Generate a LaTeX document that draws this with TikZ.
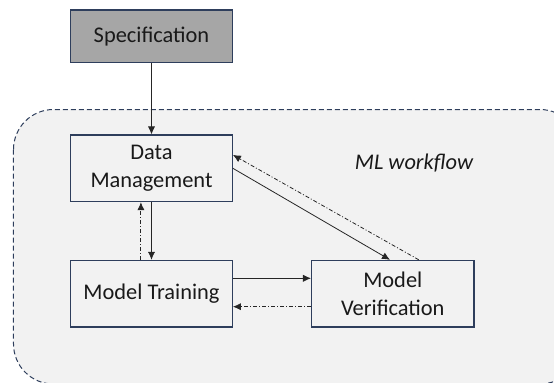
\documentclass[tikz,border=0pt]{standalone}
\usepackage{fontspec}
\setmainfont{Carlito}
\usetikzlibrary{arrows.meta}

\definecolor{boxline}{RGB}{46,62,92}
\definecolor{specgray}{RGB}{166,166,166}
\definecolor{areagray}{RGB}{242,242,242}

\begin{document}
\begin{tikzpicture}[x=0.5pt, y=-0.5pt,
    every node/.style={font=\fontsize{11.2}{14}\selectfont, text=black!90},
    box/.style={draw=boxline, line width=0.6pt, fill=areagray, align=center,
        minimum width=80.8pt, minimum height=33.3pt, inner sep=0pt},
    flow/.style={draw=black!85, line width=0.4pt, -{Latex[length=4pt,width=3.6pt]}},
    feedback/.style={flow, dash pattern=on 2pt off 1pt on 0.5pt off 1pt}]

    \useasboundingbox (0,0) rectangle (554,382);

    % workflow area, cut off at the right and bottom
    \begin{scope}
        \clip (0,0) rectangle (554,382);
        \draw[boxline, fill=areagray, line width=0.5pt, dash pattern=on 2.5pt off 1.5pt,
            rounded corners=20pt] (13.5,109.5) rectangle (580,384);
    \end{scope}
    \node[font=\fontsize{11.2}{14}\selectfont\itshape] (mlflow) at (414,163) {ML workflow};

    \node[box, fill=specgray, minimum height=26.2pt] (spec) at (151.5,36.2) {Specification};
    \node[box] (datamgmt) at (151.5,168.3) {Data\\Management};
    \node[box] (training) at (151.5,293.7) {Model Training};
    \node[box, minimum width=81.2pt] (verif) at (392.8,293.7) {Model\\Verification};

    \draw[flow] (spec) -- (datamgmt);
    \draw[flow] (datamgmt) -- (training);
    \draw[feedback] ([xshift=-5.3pt]training.north) -- ([xshift=-5.3pt]datamgmt.south);
    \draw[flow] (datamgmt.east) -- ([xshift=-1.4pt]verif.north);
    \draw[feedback] ([xshift=13pt]verif.north) -- ([yshift=6.7pt]datamgmt.east);
    \draw[flow] ([yshift=7.7pt]training.east) -- ([yshift=7.7pt]verif.west);
    \draw[feedback] ([yshift=-6.5pt]verif.west) -- ([yshift=-6.5pt]training.east);
\end{tikzpicture}
\end{document}
